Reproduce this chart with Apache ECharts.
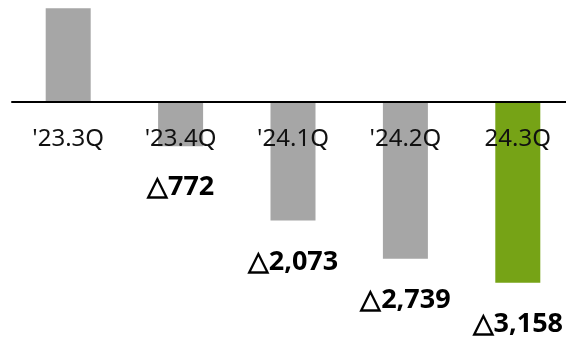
<!DOCTYPE html>
<html>
<head>
<meta charset="utf-8">
<script src="https://cdn.jsdelivr.net/npm/echarts@6/dist/echarts.min.js"></script>
<style>
  html, body { margin: 0; padding: 0; background: #fff; }
  #chart { width: 566px; height: 340px; }
</style>
</head>
<body>
<div id="chart"></div>
<script>
// quarters and values (negative = loss, shown with a triangle)
const categories = ["'23.3Q", "'23.4Q", "'24.1Q", "'24.2Q", "24.3Q"];
const values = [1640, -772, -2073, -2739, -3158];
const barColors = ['#a6a6a6', '#a6a6a6', '#a6a6a6', '#a6a6a6', '#76a316'];

function fmt (v) {
  const s = Math.abs(v).toLocaleString('en-US');
  return v < 0 ? '\u25B3' + s : s;
}

const chart = echarts.init(document.getElementById('chart'));
const option = {
  animation: false,
  grid: {
    left: 12,
    right: -8,
    top: 0,
    bottom: 0,
    outerBoundsMode: 'none',
    containLabel: false
  },
  xAxis: {
    type: 'category',
    data: categories,
    position: 'bottom',
    offset: -238, // puts the axis on the zero line, labels below it
    z: 5,
    axisTick: { show: false },
    axisLine: {
      onZero: false,
      lineStyle: { color: '#000', width: 2 }
    },
    axisLabel: {
      margin: 25,
      color: '#111',
      fontSize: 24,
      fontFamily: 'Noto Sans'
    }
  },
  yAxis: {
    type: 'value',
    min: -4161,
    max: 1783,
    show: false,
    splitLine: { show: false }
  },
  series: [
    {
      type: 'bar',
      barWidth: 45,
      data: values.map((v, i) => ({
        value: v,
        itemStyle: { color: barColors[i] },
        label: { show: v < 0 }
      })),
      label: {
        position: 'bottom',
        distance: 28,
        color: '#000',
        fontSize: 27,
        fontWeight: 'bold',
        fontFamily: 'Noto Sans',
        formatter: p => fmt(p.value)
      }
    }
  ]
};
chart.setOption(option);
</script>
</body>
</html>
